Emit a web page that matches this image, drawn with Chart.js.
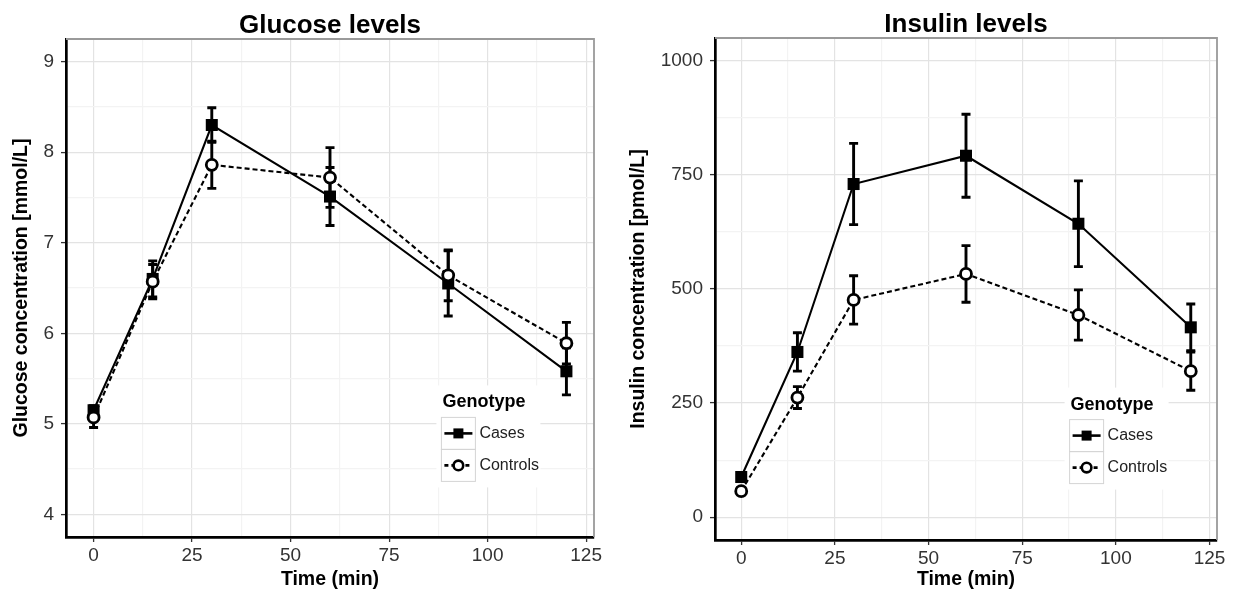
<!DOCTYPE html>
<html>
<head>
<meta charset="utf-8">
<script src="https://cdn.jsdelivr.net/npm/chart.js@4.4.1/dist/chart.umd.min.js"></script>
<style>
  body { margin: 0; background: #fff; }
  #wrap { position: relative; width: 1234px; height: 593px; }
  canvas { position: absolute; top: 0; }
  #glucoseChart { left: 0; }
  #insulinChart { left: 617px; }
</style>
</head>
<body>
<div id="wrap">
  <canvas id="glucoseChart" width="617" height="593"></canvas>
  <canvas id="insulinChart" width="617" height="593"></canvas>
</div>
<script>
// sampling times (min)
const times = [0, 15, 30, 60, 90, 120];
const seriesNames = ["Cases", "Controls"];

// glucose, mmol/L (mean and error)
const glucoseCases = [5.15, 6.6, 8.3, 7.51, 6.55, 5.58];
const glucoseCasesErr = [0.05, 0.2, 0.19, 0.32, 0.36, 0.26];
const glucoseControls = [5.07, 6.57, 7.86, 7.72, 6.64, 5.89];
const glucoseControlsErr = [0.11, 0.19, 0.26, 0.33, 0.28, 0.23];

// insulin, pmol/L (mean and error)
const insulinCases = [88, 362, 730, 792, 643, 416];
const insulinCasesErr = [10, 42, 89, 91, 94, 51];
const insulinControls = [57, 262, 476, 533, 443, 320];
const insulinControlsErr = [8, 24, 53, 62, 55, 42];

// axis ticks
const xTicks = [0, 25, 50, 75, 100, 125];
const glucoseTicks = [4, 5, 6, 7, 8, 9];
const insulinTicks = [0, 250, 500, 750, 1000];

Chart.defaults.font.family = "'Liberation Sans', Arial, sans-serif";
Chart.defaults.color = "#333";

const withMinor = (ticks) => {
	const out = [];
	ticks.forEach((t, i) => {
		out.push(t);
		if (i < ticks.length - 1) out.push((t + ticks[i + 1]) / 2);
	});
	return out;
};
const isMajor = (ticks, v) => ticks.some((m) => Math.abs(m - v) < 1e-9);
const toPoints = (vals) => times.map((t, i) => ({ x: t, y: vals[i] }));

const gridFor = (ticks) => ({
	color: (c) => (c.tick && isMajor(ticks, c.tick.value) ? "#e3e3e3" : "#f3f3f3"),
	lineWidth: 1.2,
	tickLength: 5,
	tickWidth: 1.3,
	tickColor: (c) => (c.tick && isMajor(ticks, c.tick.value) ? "#333" : "rgba(0,0,0,0)"),
});

// error bars, plot frame and the inset legend
const extras = {
	id: "extras",
	beforeDatasetsDraw(chart) {
		const { ctx, chartArea: a, scales } = chart;
		ctx.save();
		ctx.strokeStyle = "#9a9a9a";
		ctx.lineWidth = 1.8;
		ctx.beginPath();
		ctx.moveTo(a.left, a.top);
		ctx.lineTo(a.right, a.top);
		ctx.lineTo(a.right, a.bottom);
		ctx.stroke();

		ctx.strokeStyle = "#000";
		ctx.lineWidth = 2.9;
		chart.data.datasets.forEach((ds) => {
			ds.data.forEach((p, i) => {
				const e = ds.errors[i];
				const x = scales.x.getPixelForValue(p.x);
				const y1 = scales.y.getPixelForValue(p.y - e);
				const y2 = scales.y.getPixelForValue(p.y + e);
				ctx.beginPath();
				ctx.moveTo(x, y1);
				ctx.lineTo(x, y2);
				ctx.moveTo(x - 4.5, y1);
				ctx.lineTo(x + 4.5, y1);
				ctx.moveTo(x - 4.5, y2);
				ctx.lineTo(x + 4.5, y2);
				ctx.stroke();
			});
		});
		ctx.restore();
	},
	afterDraw(chart) {
		const { ctx, chartArea: a } = chart;
		const cx = a.left + 0.8 * (a.right - a.left);
		const cy = a.bottom - 0.2 * (a.bottom - a.top);
		ctx.save();
		ctx.fillStyle = "#fff";
		ctx.fillRect(cx - 52, cy - 52, 104, 102);

		ctx.fillStyle = "#000";
		ctx.textBaseline = "middle";
		ctx.textAlign = "left";
		ctx.font = "bold 18px 'Liberation Sans', Arial, sans-serif";
		ctx.fillText("Genotype", cx - 46, cy - 35);

		ctx.strokeStyle = "#d4d4d4";
		ctx.lineWidth = 1;
		ctx.strokeRect(cx - 47, cy - 20, 34, 32);
		ctx.strokeRect(cx - 47, cy + 12, 34, 32);

		ctx.font = "16px 'Liberation Sans', Arial, sans-serif";
		seriesNames.forEach((name, i) => {
			const ry = cy - 4 + i * 32;
			const kx = cx - 30;
			ctx.strokeStyle = "#000";
			ctx.lineWidth = 2.6;
			ctx.setLineDash(i === 0 ? [] : [4, 3]);
			ctx.beginPath();
			ctx.moveTo(kx - 14, ry);
			ctx.lineTo(kx + 14, ry);
			ctx.stroke();
			ctx.setLineDash([]);
			if (i === 0) {
				ctx.fillStyle = "#000";
				ctx.fillRect(kx - 5, ry - 5, 10, 10);
			} else {
				ctx.fillStyle = "#fff";
				ctx.beginPath();
				ctx.arc(kx, ry, 4.8, 0, Math.PI * 2);
				ctx.fill();
				ctx.stroke();
			}
			ctx.fillStyle = "#222";
			ctx.fillText(name, cx - 9, ry);
		});
		ctx.restore();
	},
};

const renderPanel = (id, opts) => {
	const yAll = withMinor(opts.yTicks);
	const xAll = withMinor(xTicks);
	const datasets = [
		{
			label: seriesNames[0],
			data: toPoints(opts.cases),
			errors: opts.casesErr,
			borderColor: "#000",
			backgroundColor: "#000",
			borderWidth: 2.1,
			pointStyle: "rect",
			pointRadius: 8.5,
			pointBorderWidth: 0,
			order: 2,
		},
		{
			label: seriesNames[1],
			data: toPoints(opts.controls),
			errors: opts.controlsErr,
			borderColor: "#000",
			borderWidth: 2.1,
			borderDash: [5, 3],
			pointStyle: "circle",
			pointRadius: 5.5,
			pointBorderWidth: 2.8,
			pointBackgroundColor: "#fff",
			order: 1,
		},
	];
	const options = {
		responsive: false,
		animation: false,
		devicePixelRatio: 1,
		layout: { padding: { top: opts.padTop, right: opts.padRight, left: 0, bottom: 0 } },
		plugins: {
			legend: { display: false },
			tooltip: { enabled: false },
			title: {
				display: true,
				text: opts.title,
				fullSize: false,
				color: "#000",
				font: { size: 26, weight: "bold", lineHeight: 1 },
				padding: { top: opts.titleTop, bottom: 0 },
			},
		},
		scales: {
			x: {
				type: "linear",
				min: -7,
				max: 127,
				afterBuildTicks: (s) => { s.ticks = xAll.map((v) => ({ value: v })); },
				afterFit: (s) => { s.height = opts.xHeight; },
				grid: gridFor(xTicks),
				border: { display: true, color: "#000", width: 2.7 },
				ticks: {
					autoSkip: false,
					maxRotation: 0,
					padding: 2,
					color: "#333",
					font: { size: 19 },
					callback: (v) => (isMajor(xTicks, v) ? v : ""),
				},
				title: {
					display: true,
					text: "Time (min)",
					color: "#000",
					font: { size: 19.5, weight: "bold" },
					padding: { top: 0, bottom: 2 },
				},
			},
			y: {
				type: "linear",
				min: opts.yMin,
				max: opts.yMax,
				afterBuildTicks: (s) => { s.ticks = yAll.map((v) => ({ value: v })); },
				afterFit: (s) => { s.width = opts.yWidth; },
				grid: gridFor(opts.yTicks),
				border: { display: true, color: "#000", width: 2.7 },
				ticks: {
					autoSkip: false,
					padding: 7,
					color: "#333",
					font: { size: 19 },
					callback: (v) => (isMajor(opts.yTicks, v) ? v : ""),
				},
				title: {
					display: true,
					text: opts.yTitle,
					color: "#000",
					font: { size: 19.5, weight: "bold" },
					padding: { top: 10, bottom: 0 },
				},
			},
		},
	};
	new Chart(id, { type: "line", data: { datasets }, options, plugins: [extras] });
};

renderPanel("glucoseChart", {
	title: "Glucose levels",
	yTitle: "Glucose concentration [mmol/L]",
	yTicks: glucoseTicks,
	yMin: 3.75,
	yMax: 9.25,
	cases: glucoseCases,
	casesErr: glucoseCasesErr,
	controls: glucoseControls,
	controlsErr: glucoseControlsErr,
	padTop: 0,
	titleTop: 13,
	padRight: 23,
	yWidth: 66,
	xHeight: 56,
});

renderPanel("insulinChart", {
	title: "Insulin levels",
	yTitle: "Insulin concentration [pmol/L]",
	yTicks: insulinTicks,
	yMin: -50,
	yMax: 1050,
	cases: insulinCases,
	casesErr: insulinCasesErr,
	controls: insulinControls,
	controlsErr: insulinControlsErr,
	padTop: 0,
	titleTop: 12,
	padRight: 17,
	yWidth: 98,
	xHeight: 53,
});
</script>
</body>
</html>
